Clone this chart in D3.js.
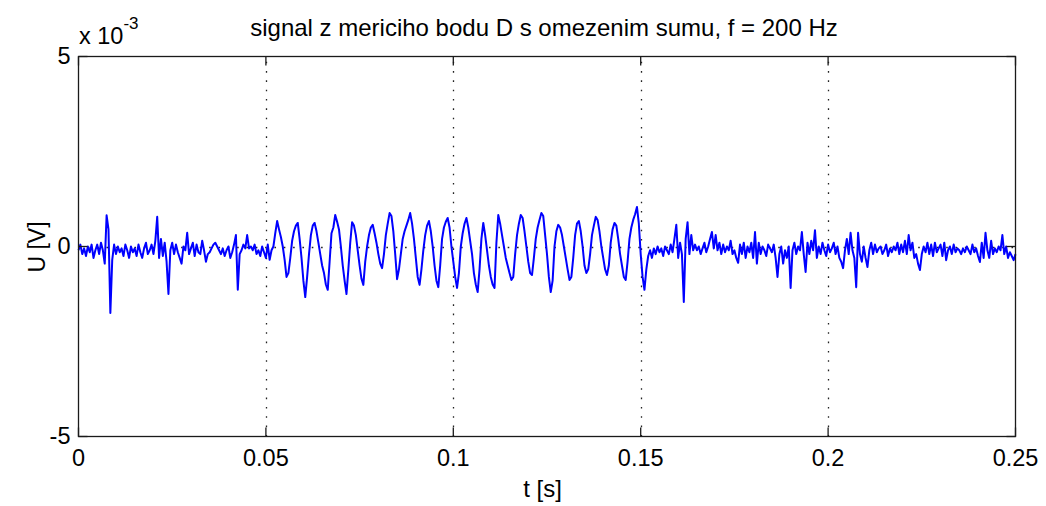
<!DOCTYPE html>
<html><head><meta charset="utf-8">
<script src="https://cdn.jsdelivr.net/npm/d3@7"></script>
<style>
body{margin:0;background:#fff}
svg text{font-family:"Liberation Sans",Arial,Helvetica,sans-serif;fill:#000}
</style>
</head><body>
<svg id="chart" width="1046" height="506"></svg>
<script>
// ---- data ----
const sampleStep = 0.0005; // s between samples
// U in units of 1e-3 V, one value per sample
const uMilli = [
 -0.1,0.05,-0.2,-0.05,-0.25,0.0,-0.15,0.05,-0.3,-0.1,
 0.05,-0.2,0.1,-0.1,-0.45,0.82,0.45,-1.75,-0.35,0.05,
 -0.2,0.0,-0.15,-0.05,-0.25,0.05,-0.1,-0.3,0.0,-0.15,
 -0.05,-0.25,0.05,-0.15,-0.3,-0.05,0.1,-0.2,-0.1,0.05,
 -0.2,0.15,0.78,-0.3,0.2,-0.25,0.1,-0.4,-1.25,-0.1,
 0.1,-0.2,0.05,-0.15,-0.3,-0.45,0.0,-0.1,0.36,-0.2,
 -0.05,0.1,-0.25,0.05,-0.15,-0.2,0.15,-0.1,-0.4,-0.2,
 -0.15,-0.05,0.05,0.1,0.0,-0.1,-0.2,-0.05,-0.25,-0.1,
 0.0,-0.3,-0.15,0.05,0.3,-1.14,-0.2,-0.1,0.05,-0.05,
 0.3,-0.05,0.0,-0.1,0.05,-0.2,-0.1,-0.25,0.0,-0.15,
 -0.3,0.05,-0.35,-0.1,0.0,0.35,0.67,0.45,0.25,0.0,
 -0.35,-0.8,-0.7,-0.3,0.15,0.4,0.55,0.62,0.2,-0.3,
 -0.9,-1.33,-0.8,-0.2,0.3,0.55,0.62,0.4,0.1,-0.2,
 -0.5,-0.7,-1.0,-1.14,-0.4,0.35,0.5,0.83,0.65,0.45,
 0.0,-0.5,-0.9,-1.25,-0.6,0.1,0.64,0.55,0.3,-0.1,
 -0.5,-0.85,-1.01,-0.4,0.0,0.3,0.5,0.57,0.35,0.1,
 -0.2,-0.45,-0.57,-0.2,0.3,0.6,0.88,0.8,0.4,-0.2,
 -0.86,-0.6,-0.2,0.2,0.4,0.55,0.7,0.88,0.6,0.2,
 -0.3,-0.8,-1.01,-0.6,-0.1,0.3,0.55,0.67,0.4,0.0,
 -0.5,-0.9,-1.07,-0.5,0.2,0.5,0.65,0.75,0.5,0.0,
 -0.4,-0.8,-1.09,-0.7,0.0,0.35,0.6,0.75,0.5,0.15,
 -0.2,-0.7,-1.0,-1.2,-0.6,0.2,0.62,0.3,-0.1,-0.5,
 -0.8,-1.0,-1.09,0.1,0.83,0.6,0.3,0.0,-0.3,-0.5,
 -0.7,-0.88,-0.8,-0.2,0.3,0.6,0.83,0.75,0.4,0.0,
 -0.4,-0.7,-0.75,-0.3,0.2,0.5,0.7,0.88,0.8,0.3,
 -0.2,-0.8,-1.2,-0.9,0.0,0.4,0.57,0.5,0.3,0.0,
 -0.3,-0.6,-0.88,-0.8,-0.3,0.3,0.6,0.67,0.4,0.0,
 -0.5,-0.7,-0.6,-0.2,0.3,0.55,0.78,0.7,0.4,0.0,
 -0.3,-0.6,-0.75,-0.5,0.1,0.45,0.62,0.55,0.2,-0.2,
 -0.5,-0.8,-0.88,-0.4,0.2,0.5,0.7,0.85,1.04,0.6,
 -0.2,-0.8,-1.14,-0.6,-0.25,-0.1,-0.3,-0.05,-0.2,0.0,
 -0.15,-0.05,-0.25,0.0,-0.1,-0.2,0.05,-0.15,0.2,0.57,
 -0.3,0.1,-0.2,-1.46,0.2,0.64,-0.2,0.3,-0.1,0.05,
 -0.1,0.0,-0.2,-0.05,0.1,-0.15,0.0,0.2,0.38,-0.05,
 0.3,-0.1,0.1,-0.2,0.05,-0.15,0.0,-0.1,0.15,-0.2,
 -0.1,-0.3,-0.43,0.05,-0.2,0.1,-0.3,0.0,-0.15,0.1,
 -0.3,0.38,-0.45,0.1,-0.2,0.0,-0.1,-0.25,0.05,-0.05,
 -0.15,0.05,-0.3,-0.8,-0.2,0.0,-0.45,-0.1,-0.3,0.0,
 -1.09,-0.1,0.1,-0.2,0.0,-0.1,0.38,-0.2,-0.67,0.1,
 -0.2,0.15,-0.1,0.43,-0.3,0.0,-0.2,0.1,-0.1,-0.25,
 0.05,-0.15,-0.05,0.1,-0.2,0.0,-0.3,-0.4,-0.57,-0.1,
 0.2,-0.2,0.36,-0.1,-0.3,-1.07,0.36,-0.2,-0.4,0.0,
 -0.3,-0.54,-0.1,0.1,-0.2,0.05,-0.15,-0.05,0.0,-0.2,
 -0.1,0.05,-0.25,-0.05,-0.15,0.0,-0.1,0.1,-0.2,0.05,
 -0.15,0.15,-0.2,0.3,-0.1,0.1,-0.3,-0.2,-0.45,-0.62,
 -0.2,0.0,-0.15,0.1,-0.2,0.05,-0.25,0.1,-0.15,-0.05,
 0.05,-0.25,0.1,-0.36,-0.1,0.0,-0.2,0.05,-0.15,-0.05,
 -0.1,-0.2,-0.05,-0.15,0.0,-0.1,-0.2,0.05,-0.15,-0.05,
 -0.25,-0.41,0.1,-0.3,0.36,-0.1,-0.3,0.15,-0.2,-0.05,
 -0.15,0.0,-0.1,0.3,-0.2,0.0,-0.3,-0.15,-0.25,-0.36,
 -0.2
];
const xTicks = [0, 0.05, 0.1, 0.15, 0.2, 0.25];
const xTickLabels = ["0", "0.05", "0.1", "0.15", "0.2", "0.25"];
const yTicks = [-5, 0, 5];
const yTickLabels = ["-5", "0", "5"];
const titleText = "signal z mericiho bodu D s omezenim sumu, f = 200 Hz";
const xLabelText = "t [s]";
const yLabelText = "U [V]";

// ---- drawing ----
const svg = d3.select("#chart");
const L = 78.5, R = 1015.5, T = 56.5, B = 436.5;
const x = d3.scaleLinear().domain([0, 0.25]).range([L, R]);
const y = d3.scaleLinear().domain([-5, 5]).range([B, T]);
const tick = 9;
const axisColor = "#1a1a1a";
const fontSize = 24;

// grid
const grid = svg.append("g").attr("stroke", "#222").attr("stroke-width", 1.3)
  .attr("stroke-dasharray", "1.6,7.73");
grid.selectAll("line.gx").data(xTicks.slice(1, -1)).join("line")
  .attr("x1", d => Math.round(x(d)) + 0.5).attr("x2", d => Math.round(x(d)) + 0.5)
  .attr("y1", B).attr("y2", T);
grid.selectAll("line.gy").data([0]).join("line")
  .attr("x1", L).attr("x2", R)
  .attr("y1", d => Math.round(y(d)) + 0.5).attr("y2", d => Math.round(y(d)) + 0.5);

// signal
const pts = uMilli.map((u, i) => [i * sampleStep, u]);
const line = d3.line().x(d => x(d[0])).y(d => y(d[1]));
svg.append("path").datum(pts)
  .attr("d", line).attr("fill", "none")
  .attr("stroke", "#0000ff").attr("stroke-width", 2)
  .attr("stroke-linejoin", "round");

// axes
function styleAxis(g) {
  g.select(".domain").remove();
  g.selectAll(".tick line").attr("stroke", axisColor).attr("stroke-width", 1.3);
  g.selectAll(".tick text").attr("font-size", 23.5).attr("fill", "#000")
    .attr("font-family", '"Liberation Sans",Arial,sans-serif');
}
svg.append("g").attr("transform", `translate(0,${B})`)
  .call(d3.axisBottom(x).tickValues(xTicks).tickFormat((d, i) => xTickLabels[i])
    .tickSize(-tick).tickPadding(13).offset(0))
  .call(styleAxis);
svg.append("g").attr("transform", `translate(0,${T})`)
  .call(d3.axisTop(x).tickValues(xTicks).tickFormat("").tickSize(-tick).offset(0))
  .call(styleAxis);
svg.append("g").attr("transform", `translate(${L},0)`)
  .call(d3.axisLeft(y).tickValues(yTicks).tickFormat((d, i) => yTickLabels[i])
    .tickSize(-tick).tickPadding(8).offset(0))
  .call(styleAxis);
svg.append("g").attr("transform", `translate(${R},0)`)
  .call(d3.axisRight(y).tickValues(yTicks).tickFormat("").tickSize(-tick).offset(0))
  .call(styleAxis);

// box
svg.append("rect").attr("x", L).attr("y", T).attr("width", R - L).attr("height", B - T)
  .attr("fill", "none").attr("stroke", axisColor).attr("stroke-width", 1.3);

// exponent label
const ex = svg.append("text").attr("x", 79).attr("y", 44).attr("font-size", 23.5);
ex.append("tspan").text("x 10");
ex.append("tspan").attr("dy", -15).attr("font-size", 17).text("-3");

// title & labels
svg.append("text").attr("x", 544).attr("y", 36).attr("text-anchor", "middle")
  .attr("font-size", fontSize).text(titleText);
svg.append("text").attr("x", 542.5).attr("y", 497).attr("text-anchor", "middle")
  .attr("font-size", fontSize).text(xLabelText);
svg.append("text").attr("transform", "translate(45,247) rotate(-90)")
  .attr("text-anchor", "middle").attr("font-size", 23).text(yLabelText);
</script>
</body></html>
